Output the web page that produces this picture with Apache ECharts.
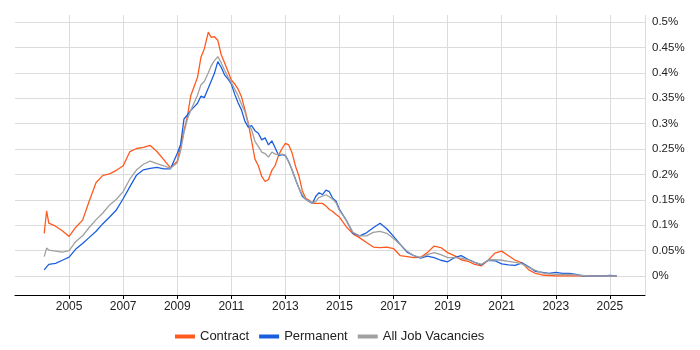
<!DOCTYPE html>
<html>

<head>
    <meta charset="UTF-8">
    <title>ECharts</title>
    <script type="text/javascript" src="https://cdn.jsdelivr.net/npm/echarts@6/dist/echarts.min.js"></script>
    <style>
        body { margin: 0; background: #fff; }
    </style>
</head>

<body>
    <div id="main" style="width:700px;height:350px;"></div>
    <script type="text/javascript">
        // time points (decimal years), denser where the lines wiggle
        var years = [2004.08, 2004.17, 2004.25, 2004.5, 2004.75,
            2005, 2005.25, 2005.5, 2005.75,
            2006, 2006.25, 2006.5, 2006.75,
            2007, 2007.25, 2007.5, 2007.75,
            2008, 2008.25, 2008.5, 2008.75,
            2009, 2009.125, 2009.25, 2009.375, 2009.5, 2009.625, 2009.75, 2009.875,
            2010, 2010.15, 2010.25, 2010.375, 2010.5, 2010.625, 2010.75, 2010.875,
            2011, 2011.125, 2011.25, 2011.375, 2011.5, 2011.625, 2011.75, 2011.875,
            2012, 2012.125, 2012.25, 2012.375, 2012.5, 2012.625, 2012.75, 2012.875,
            2013, 2013.125, 2013.25, 2013.375, 2013.5, 2013.625, 2013.75, 2013.875,
            2014, 2014.125, 2014.25, 2014.375, 2014.5, 2014.625, 2014.75, 2014.875,
            2015, 2015.25, 2015.5, 2015.75,
            2016, 2016.25, 2016.5, 2016.75,
            2017, 2017.25, 2017.5, 2017.75,
            2018, 2018.25, 2018.5, 2018.75,
            2019, 2019.25, 2019.5, 2019.75,
            2020, 2020.25, 2020.5, 2020.75,
            2021, 2021.25, 2021.5, 2021.75,
            2022, 2022.25, 2022.5, 2022.75,
            2023, 2023.25, 2023.5, 2023.75,
            2024, 2024.25, 2024.5, 2024.75,
            2025, 2025.25];

        // percent of job ads
        var contract = [0.084, 0.128, 0.104, 0.098, 0.089,
            0.078, 0.096, 0.110, 0.148,
            0.184, 0.198, 0.201, 0.208,
            0.217, 0.245, 0.251, 0.253,
            0.257, 0.245, 0.229, 0.213,
            0.226, 0.256, 0.286, 0.314, 0.355, 0.373, 0.391, 0.430,
            0.447, 0.480, 0.470, 0.471, 0.464, 0.436, 0.420, 0.403,
            0.386, 0.378, 0.368, 0.353, 0.328, 0.302, 0.266, 0.230,
            0.217, 0.196, 0.186, 0.190, 0.208, 0.218, 0.238, 0.251,
            0.261, 0.258, 0.242, 0.216, 0.197, 0.168, 0.153, 0.149,
            0.143, 0.143, 0.143, 0.143, 0.138, 0.131, 0.127, 0.121,
            0.116, 0.097, 0.083, 0.075,
            0.066, 0.057, 0.056, 0.057,
            0.054, 0.040, 0.038, 0.036,
            0.037, 0.046, 0.059, 0.056,
            0.046, 0.040, 0.032, 0.029,
            0.023, 0.020, 0.031, 0.045,
            0.049, 0.040, 0.031, 0.026,
            0.012, 0.005, 0.002, 0.001,
            0.000, 0.000, 0.000, 0.000,
            0.000, 0.000, 0.000, 0.000,
            0.000, 0.000];

        var permanent = [0.012, 0.018, 0.023, 0.025, 0.031,
            0.037, 0.053, 0.064, 0.076,
            0.088, 0.103, 0.116, 0.130,
            0.152, 0.176, 0.199, 0.209,
            0.212, 0.214, 0.211, 0.211,
            0.241, 0.259, 0.309, 0.317, 0.326, 0.333, 0.340, 0.354,
            0.351, 0.370, 0.383, 0.399, 0.422, 0.411, 0.396, 0.388,
            0.378, 0.358, 0.341, 0.327, 0.305, 0.293, 0.296, 0.286,
            0.281, 0.268, 0.272, 0.258, 0.266, 0.252, 0.237, 0.239,
            0.237, 0.225, 0.208, 0.190, 0.173, 0.157, 0.151, 0.147,
            0.143, 0.157, 0.164, 0.160, 0.169, 0.166, 0.153, 0.147,
            0.131, 0.110, 0.084, 0.079,
            0.085, 0.095, 0.104, 0.093,
            0.078, 0.062, 0.047, 0.040,
            0.035, 0.039, 0.036, 0.031,
            0.028, 0.036, 0.040, 0.033,
            0.027, 0.022, 0.031, 0.030,
            0.024, 0.022, 0.021, 0.026,
            0.018, 0.009, 0.007, 0.005,
            0.007, 0.005, 0.005, 0.003,
            0.000, 0.000, 0.000, 0.000,
            0.001, 0.000];

        var allJobs = [0.038, 0.055, 0.051, 0.049, 0.047,
            0.050, 0.068, 0.079, 0.096,
            0.111, 0.124, 0.140, 0.151,
            0.166, 0.191, 0.209, 0.220,
            0.226, 0.221, 0.217, 0.212,
            0.223, 0.246, 0.282, 0.309, 0.326, 0.341, 0.356, 0.376,
            0.383, 0.400, 0.413, 0.424, 0.432, 0.420, 0.405, 0.392,
            0.381, 0.368, 0.355, 0.338, 0.324, 0.299, 0.288, 0.265,
            0.255, 0.244, 0.241, 0.234, 0.244, 0.240, 0.239, 0.240,
            0.238, 0.224, 0.209, 0.190, 0.173, 0.160, 0.151, 0.147,
            0.143, 0.147, 0.155, 0.157, 0.160, 0.156, 0.151, 0.144,
            0.129, 0.110, 0.086, 0.079,
            0.079, 0.086, 0.088, 0.084,
            0.074, 0.062, 0.049, 0.040,
            0.036, 0.042, 0.046, 0.042,
            0.036, 0.036, 0.035, 0.032,
            0.027, 0.023, 0.031, 0.032,
            0.031, 0.029, 0.027, 0.024,
            0.017, 0.011, 0.006, 0.004,
            0.003, 0.003, 0.003, 0.002,
            0.001, 0.000, 0.000, 0.000,
            0.000, 0.000];

        var seriesNames = ['Contract', 'Permanent', 'All Job Vacancies'];
        var colors = ['#ff5a1e', '#1a5ee0', '#a0a0a0'];

        var xMin = 2003, xMax = 2026.3;
        var font = 'Arial, "Liberation Sans", sans-serif';

        function pairs(vals) {
            var out = [];
            for (var i = 0; i < vals.length; i++) {
                out.push([years[i], vals[i]]);
            }
            return out;
        }

        var myChart = echarts.init(document.getElementById('main'));

        myChart.setOption({
            animation: false,
            color: colors,
            textStyle: { fontFamily: font },
            legend: {
                data: seriesNames,
                left: 170,
                top: 325,
                icon: 'rect',
                itemWidth: 20,
                itemHeight: 4,
                itemGap: 10,
                textStyle: { fontSize: 13, color: '#222', fontFamily: font }
            },
            // grid 0 holds the data and the % gridlines, grid 1 the year axis
            grid: [
                { left: 15, right: 55, top: 22, bottom: 74 },
                { left: 15, right: 55, top: 15, bottom: 55 }
            ],
            xAxis: [
                {
                    gridIndex: 0, type: 'value', min: xMin, max: xMax, show: false
                },
                {
                    gridIndex: 1, type: 'value', min: xMin, max: xMax, interval: 2,
                    axisLine: { lineStyle: { color: '#000', width: 1 } },
                    axisTick: { length: 4, lineStyle: { color: '#000' } },
                    axisLabel: {
                        showMinLabel: false, showMaxLabel: false,
                        color: '#222', fontSize: 12, margin: 6, fontFamily: font,
                        formatter: function (v) { return String(Math.round(v)); }
                    },
                    splitLine: { show: true, showMinLine: false, lineStyle: { color: '#dcdcdc' } }
                }
            ],
            yAxis: [
                {
                    gridIndex: 0, type: 'value', position: 'right', min: 0, max: 0.5, interval: 0.05,
                    axisLine: { show: false },
                    axisTick: { show: false },
                    axisLabel: {
                        color: '#222', fontSize: 11.5, margin: 7, fontFamily: font,
                        formatter: function (v) { return parseFloat(v.toFixed(2)) + '%'; }
                    },
                    splitLine: { lineStyle: { color: '#dcdcdc' } }
                },
                {
                    gridIndex: 1, type: 'value', min: 0, max: 1, show: false
                }
            ],
            series: [
                {
                    name: 'Contract', type: 'line', xAxisIndex: 0, yAxisIndex: 0,
                    symbol: 'none', lineStyle: { width: 1.3 }, data: pairs(contract)
                },
                {
                    name: 'Permanent', type: 'line', xAxisIndex: 0, yAxisIndex: 0,
                    symbol: 'none', lineStyle: { width: 1.3 }, data: pairs(permanent)
                },
                {
                    name: 'All Job Vacancies', type: 'line', xAxisIndex: 0, yAxisIndex: 0,
                    symbol: 'none', lineStyle: { width: 1.3 }, data: pairs(allJobs)
                },
                {
                    // empty series so the year axis grid is laid out
                    name: 'axis', type: 'line', xAxisIndex: 1, yAxisIndex: 1,
                    silent: true, data: []
                }
            ]
        });
    </script>

</body>
</html>
